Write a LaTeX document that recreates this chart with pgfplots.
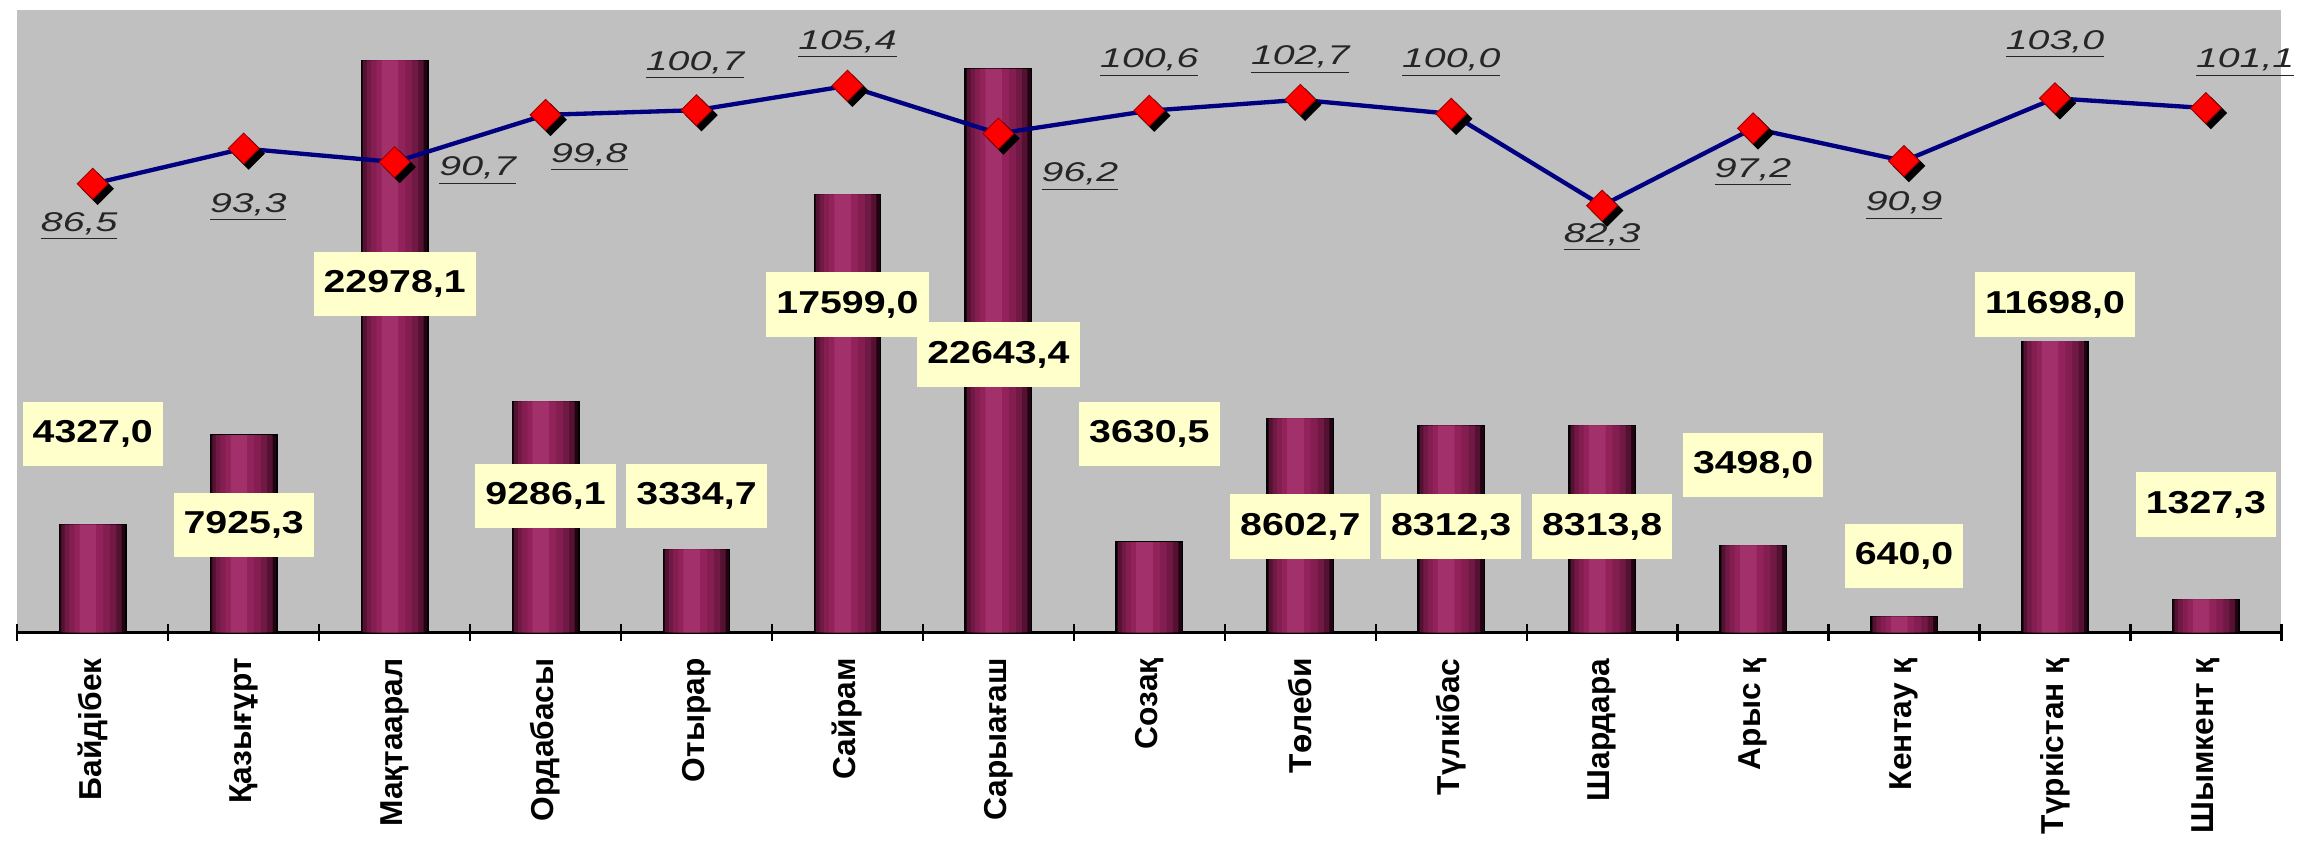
\documentclass[border=0pt]{standalone}
\usepackage{pgfplots}
\pgfplotsset{compat=1.18}
\usepackage{pgfplotstable}
\usepackage{graphicx}
\usepackage{fontspec}
\setmainfont{Liberation Sans}

\definecolor{plotbg}{RGB}{192,192,192}
\definecolor{barmid}{RGB}{145,34,90}
\definecolor{barlight}{RGB}{162,48,106}
\definecolor{bardark}{RGB}{34,3,18}
\definecolor{linenavy}{RGB}{0,0,128}
\definecolor{lblfill}{RGB}{255,255,204}

% bars: index, value
\pgfplotstableread{
x  v
0  4327.0
1  7925.3
2  22978.1
3  9286.1
4  3334.7
5  17599.0
6  22643.4
7  3630.5
8  8602.7
9  8312.3
10 8313.8
11 3498.0
12 640.0
13 11698.0
14 1327.3
}\bars

% where the bar value boxes sit
\pgfplotstableread{
x  y     lab
0  7970  4327,0
1  4310  7925,3
2  14000 22978,1
3  5490  9286,1
4  5490  3334,7
5  13170 17599,0
6  11160 22643,4
7  7970  3630,5
8  4250  8602,7
9  4250  8312,3
10 4250  8313,8
11 6730  3498,0
12 3070  640,0
13 13170 11698,0
14 5140  1327,3
}\barlabels

% index in percent
\pgfplotstableread{
x  v
0  86.5
1  93.3
2  90.7
3  99.8
4  100.7
5  105.4
6  96.2
7  100.6
8  102.7
9  100.0
10 82.3
11 97.2
12 90.9
13 103.0
14 101.1
}\idx

\pgfplotstableread{
x     y     lab
-0.09 78.3  86,5
1.03  82.0  93,3
2.55  89.0  90,7
3.29  91.6  99,8
3.99  109.3 100,7
5.0   113.4 105,4
6.54  87.8  96,2
7.0   109.8 100,6
8.0   110.4 102,7
9.0   109.8 100,0
10.0  76.2  82,3
11.0  88.7  97,2
12.0  82.2  90,9
13.0  113.4 103,0
14.26 109.8 101,1
}\idxlabels

\pgfplotsset{
    barlayer/.style n args={3}{ybar, bar width=#1, bar shift=#2, fill=#3, draw=none},
}

\begin{document}
\begin{tikzpicture}
\useasboundingbox (-6pt,-73pt) rectangle (794pt,219.5pt);
\begin{axis}[
    at={(0,0)}, anchor=south west,
    scale only axis, width=785.8pt, height=216pt,
    xmin=-0.5, xmax=14.5, ymin=0, ymax=25000,
    axis x line*=bottom, axis y line=none,
    x axis line style={black, line width=1pt},
    axis background/.style={fill=plotbg},
    xtick={0,...,14},
    xticklabels={Байдібек, Қазығұрт, Мақтаарал, Ордабасы, Отырар, Сайрам, Сарыағаш, Созақ, Төлеби, Түлкібас, Шардара, Арыс қ, Кентау қ, Түркістан қ, Шымкент қ},
    major tick length=0pt,
    minor xtick={-0.5,0.5,...,14.5},
    minor tick length=6pt,
    tick align=center,
    minor tick style={black, line width=0.8pt},
    xticklabel style={yshift=-5.5pt, rotate=90, anchor=east, font=\bfseries\fontsize{11}{12}\selectfont},
    clip=false,
]
% cylinder look: stacked bars, dark rim to light core
\addplot[ybar, bar width=0.44, fill=bardark, draw=black, line width=0.5pt] table[x=x, y=v] {\bars};
\addplot[barlayer={0.40}{-0.008}{bardark!55!barmid}] table[x=x, y=v] {\bars};
\addplot[barlayer={0.34}{-0.014}{bardark!30!barmid}] table[x=x, y=v] {\bars};
\addplot[barlayer={0.27}{-0.02}{bardark!12!barmid}] table[x=x, y=v] {\bars};
\addplot[barlayer={0.19}{-0.026}{barmid}] table[x=x, y=v] {\bars};
\addplot[barlayer={0.11}{-0.032}{barlight}] table[x=x, y=v] {\bars};
\addplot[draw=none, mark=none, nodes near coords={\scalebox{1.24}[1]{\pgfplotspointmeta}},
    point meta=explicit symbolic,
    nodes near coords style={anchor=center, fill=lblfill, inner xsep=3.5pt, inner ysep=6.5pt,
        font=\bfseries\fontsize{11}{13}\selectfont, text=black}]
    table[x=x, y=y, meta=lab] {\barlabels};
\end{axis}

\begin{axis}[
    at={(0,0)}, anchor=south west,
    scale only axis, width=785.8pt, height=216pt,
    xmin=-0.5, xmax=14.5, ymin=0, ymax=120,
    axis lines=none,
    clip=false,
]
\addplot[linenavy, line width=1.5pt, mark=none] table[x=x, y=v] {\idx};
\addplot[only marks, mark=square*, mark size=3.8pt,
    mark options={xshift=1.7pt, yshift=-1.7pt, rotate=45, fill=black, draw=black}]
    table[x=x, y=v] {\idx};
\addplot[only marks, mark=square*, mark size=3.8pt,
    mark options={rotate=45, fill=red, draw=red!60!black, line width=0.3pt}]
    table[x=x, y=v] {\idx};
\addplot[draw=none, mark=none,
    nodes near coords={\underline{\scalebox{1.45}[1]{\pgfplotspointmeta}}},
    point meta=explicit symbolic,
    nodes near coords style={anchor=center, inner sep=1pt,
        font=\itshape\fontsize{9.4}{11}\selectfont, text=black!85}]
    table[x=x, y=y, meta=lab] {\idxlabels};
\end{axis}
\end{tikzpicture}
\end{document}
